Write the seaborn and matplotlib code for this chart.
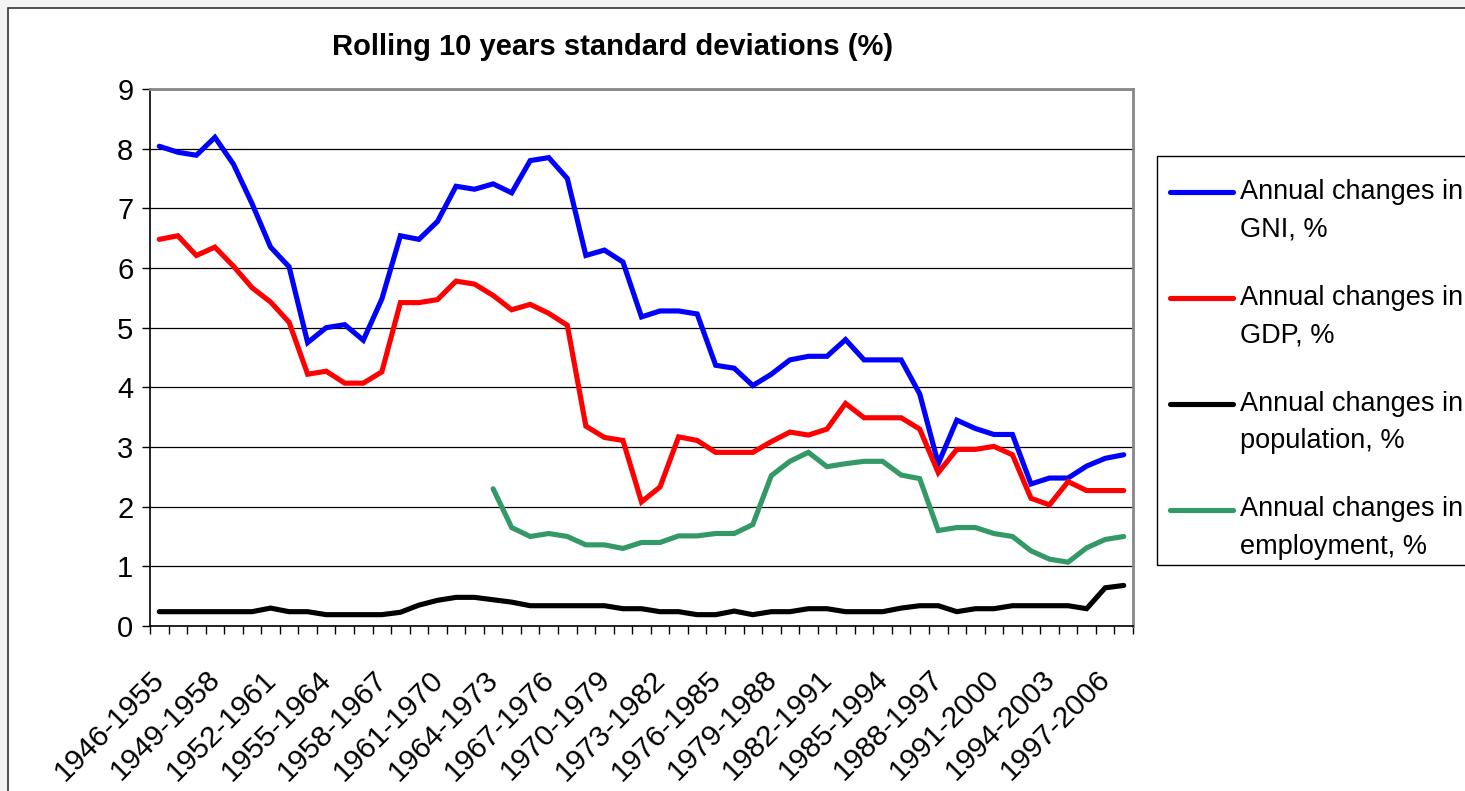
import numpy as np
import pandas as pd
import seaborn as sns
import matplotlib
matplotlib.use("Agg")
import matplotlib.pyplot as plt
from matplotlib.patches import Rectangle
from matplotlib.transforms import ScaledTranslation

# ---------------- data ----------------
start_years = list(range(1946, 1999))
periods = [f"{y}-{y + 9}" for y in start_years]

gni = [8.04, 7.94, 7.89, 8.19, 7.74, 7.08, 6.35, 6.02, 4.75, 5.00,
       5.05, 4.79, 5.48, 6.54, 6.48, 6.78, 7.37, 7.32, 7.41, 7.26,
       7.80, 7.85, 7.50, 6.21, 6.30, 6.10, 5.18, 5.28, 5.28, 5.23,
       4.37, 4.32, 4.03, 4.22, 4.46, 4.52, 4.52, 4.80, 4.46, 4.46,
       4.46, 3.89, 2.72, 3.45, 3.31, 3.21, 3.21, 2.38, 2.48, 2.48,
       2.68, 2.81, 2.87]

gdp = [6.48, 6.54, 6.21, 6.35, 6.03, 5.67, 5.43, 5.09, 4.22, 4.27,
       4.07, 4.07, 4.26, 5.42, 5.42, 5.47, 5.78, 5.73, 5.54, 5.30,
       5.39, 5.24, 5.04, 3.35, 3.16, 3.11, 2.08, 2.33, 3.17, 3.11,
       2.91, 2.91, 2.91, 3.09, 3.25, 3.20, 3.30, 3.73, 3.49, 3.49,
       3.49, 3.30, 2.57, 2.96, 2.96, 3.01, 2.87, 2.14, 2.03, 2.42,
       2.27, 2.27, 2.27]

population = [0.24, 0.24, 0.24, 0.24, 0.24, 0.24, 0.30, 0.24, 0.24, 0.19,
              0.19, 0.19, 0.19, 0.23, 0.35, 0.43, 0.48, 0.48, 0.44, 0.40,
              0.34, 0.34, 0.34, 0.34, 0.34, 0.29, 0.29, 0.24, 0.24, 0.19,
              0.19, 0.25, 0.19, 0.24, 0.24, 0.29, 0.29, 0.24, 0.24, 0.24,
              0.30, 0.34, 0.34, 0.24, 0.29, 0.29, 0.34, 0.34, 0.34, 0.34,
              0.29, 0.64, 0.68]

nan = np.nan
employment = [nan, nan, nan, nan, nan, nan, nan, nan, nan, nan,
              nan, nan, nan, nan, nan, nan, nan, nan, 2.30, 1.65,
              1.50, 1.55, 1.50, 1.36, 1.36, 1.30, 1.40, 1.40, 1.51, 1.51,
              1.55, 1.55, 1.70, 2.52, 2.76, 2.91, 2.67, 2.72, 2.76, 2.76,
              2.53, 2.47, 1.60, 1.65, 1.65, 1.55, 1.50, 1.26, 1.12, 1.07,
              1.31, 1.45, 1.50]

series_labels = ["Annual changes in\nGNI, %",
                 "Annual changes in\nGDP, %",
                 "Annual changes in\npopulation, %",
                 "Annual changes in\nemployment, %"]
series_values = [gni, gdp, population, employment]
series_colors = ["#0000FF", "#FF0000", "#000000", "#339966"]

title = "Rolling 10 years standard deviations (%)"
y_ticks = [0, 1, 2, 3, 4, 5, 6, 7, 8, 9]
label_step = 3

# ---------------- figure ----------------
sns.set_theme(style="white")
plt.rcParams["font.family"] = ["Liberation Sans", "DejaVu Sans"]
plt.rcParams["text.color"] = "black"
plt.rcParams["xtick.color"] = "black"
plt.rcParams["ytick.color"] = "black"
plt.rcParams["xtick.labelcolor"] = "black"
plt.rcParams["ytick.labelcolor"] = "black"

W, H = 1465, 791
fig = plt.figure(figsize=(W / 100, H / 100), dpi=100)
fig.patch.set_facecolor("#f4f4f4")
fig.patches.append(Rectangle((8 / W, -0.2), 1.2, (H - 8) / H + 0.2,
                             transform=fig.transFigure, facecolor="white",
                             edgecolor="#333333", linewidth=1.2, zorder=-10))
# legend frame (box runs past the right edge, as in the original)
fig.patches.append(Rectangle((1157 / W, 1 - 565 / H), 0.5, (565 - 156) / H,
                             transform=fig.transFigure, facecolor="white",
                             edgecolor="black", linewidth=1.0, zorder=-5))

ax = fig.add_axes([150 / W, 1 - 626 / H, (1133 - 150) / W, (626 - 89) / H])
ax.set_facecolor("white")

x_pos = np.arange(len(periods))
frames = []
for lab, vals in zip(series_labels, series_values):
    frames.append(pd.DataFrame({"pos": x_pos, "value": vals, "series": lab}))
df = pd.concat(frames, ignore_index=True).dropna()

sns.lineplot(data=df, x="pos", y="value", hue="series",
             hue_order=series_labels, palette=series_colors,
             linewidth=3.7, errorbar=None, legend=False, ax=ax,
             solid_joinstyle="miter", solid_capstyle="round")

ax.set_xlim(-0.5, len(periods) - 0.5)
ax.set_ylim(0, 9)
ax.set_xlabel("")
ax.set_ylabel("")

# y axis
ax.set_yticks(y_ticks)
ax.set_yticklabels([str(v) for v in y_ticks], fontsize=21)
ax.yaxis.grid(True, color="black", linewidth=0.9)
ax.xaxis.grid(False)
ax.tick_params(axis="y", direction="out", length=6, width=1, color="black",
               pad=6, left=True)

# x axis: boundaries as minor ticks, labels on categories
ax.set_xticks(np.arange(-0.5, len(periods), 1.0), minor=True)
lab_pos = x_pos[::label_step]
ax.set_xticks(lab_pos)
ax.set_xticklabels([periods[i] for i in lab_pos], fontsize=21.5,
                   rotation=45, ha="right", va="center",
                   rotation_mode="anchor")
ax.tick_params(axis="x", which="major", length=0, pad=0)
ax.tick_params(axis="x", which="minor", direction="out", length=6, width=1,
               color="black", bottom=True)
offset = ScaledTranslation(0.01, -0.49, fig.dpi_scale_trans)
for t in ax.get_xticklabels():
    t.set_transform(t.get_transform() + offset)

for side in ["left", "bottom"]:
    ax.spines[side].set_color("black")
    ax.spines[side].set_linewidth(1.2)
for side in ["top", "right"]:
    ax.spines[side].set_color("#888888")
    ax.spines[side].set_linewidth(2)

# title
fig.text(613 / W, 1 - 47 / H, title, ha="center", va="center",
         fontsize=21, fontweight="bold", color="black")

# legend
fs_leg = 19.5
handles = ax.get_lines()[:len(series_labels)]
leg = ax.legend(handles, series_labels, loc="upper left",
                bbox_to_anchor=(1154 / W, 1 - 163 / H),
                bbox_transform=fig.transFigure, frameon=False,
                borderpad=0.6, handlelength=2.3,
                handletextpad=0.27, labelspacing=1.57, borderaxespad=0,
                fontsize=fs_leg)
for t in leg.get_texts():
    t.set_linespacing(1.56)
    t.set_color("black")
for ln in leg.get_lines():
    ln.set_linewidth(3.7)
    yd = np.asarray(ln.get_ydata(), dtype=float)
    ln.set_ydata(yd + 13.7)

fig.savefig("out.png", dpi=100, facecolor=fig.get_facecolor())
